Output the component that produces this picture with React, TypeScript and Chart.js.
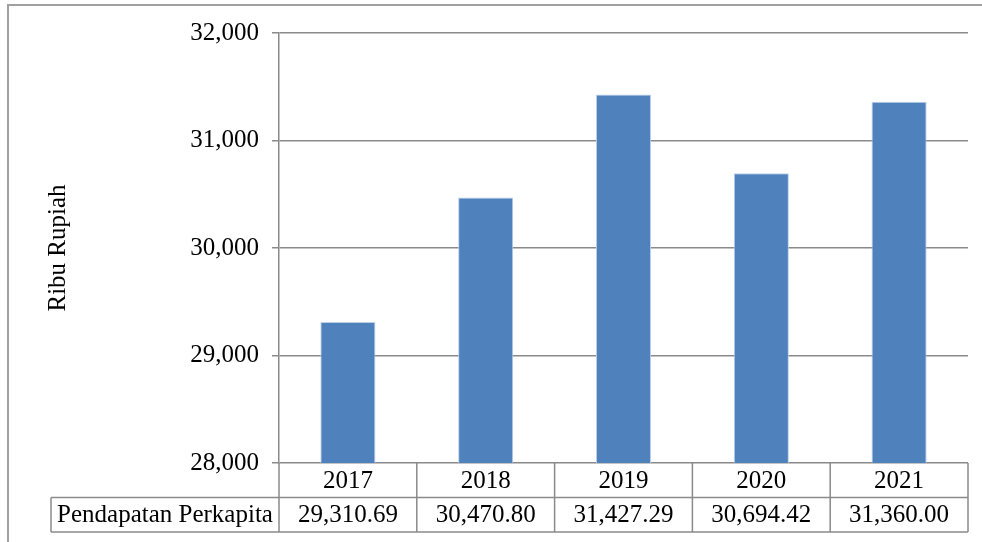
import React, { useEffect, useRef } from "react";
import { Chart, registerables } from "chart.js";

Chart.register(...registerables);

const years = ["2017", "2018", "2019", "2020", "2021"];
const pendapatan = [29310.69, 30470.8, 31427.29, 30694.42, 31360.0];
const tableLabels = ["29,310.69", "30,470.80", "31,427.29", "30,694.42", "31,360.00"];
const seriesName = "Pendapatan Perkapita";
const yTitle = "Ribu Rupiah";
const yMin = 28000;
const yMax = 32000;
const yStep = 1000;

const FONT = "'Liberation Serif', 'Times New Roman', serif";
const GRID = "#8a8a8a";

const tablePlugin = {
  id: "dataTable",
  afterDraw(chart: any) {
    const ctx = chart.ctx;
    const xs = chart.scales.x;
    const area = chart.chartArea;
    const n = years.length;
    const colW = (area.right - area.left) / n;
    const top = area.bottom;
    const mid = top + 34.5;
    const bot = top + 69;
    const labelLeft = 51;
    ctx.save();
    ctx.strokeStyle = GRID;
    ctx.lineWidth = 1.5;
    ctx.beginPath();
    // vertical column lines
    for (let i = 0; i <= n; i++) {
      const x = area.left + i * colW;
      ctx.moveTo(x, top);
      ctx.lineTo(x, bot);
    }
    // label cell left
    ctx.moveTo(labelLeft, mid);
    ctx.lineTo(labelLeft, bot);
    // horizontal lines
    ctx.moveTo(labelLeft, mid);
    ctx.lineTo(area.right, mid);
    ctx.moveTo(labelLeft, bot);
    ctx.lineTo(area.right, bot);
    ctx.stroke();

    ctx.fillStyle = "#000";
    ctx.font = `25px ${FONT}`;
    ctx.textAlign = "center";
    ctx.textBaseline = "middle";
    for (let i = 0; i < n; i++) {
      const cx = xs.getPixelForValue(i);
      ctx.fillText(years[i], cx, (top + mid) / 2 + 1);
      ctx.fillText(tableLabels[i], cx, (mid + bot) / 2 + 1);
    }
    ctx.fillText(seriesName, (labelLeft + area.left) / 2, (mid + bot) / 2 + 1);

    // outer chart border
    ctx.strokeStyle = "#a0a0a0";
    ctx.lineWidth = 2;
    ctx.strokeRect(8, 5, 1000, 600);
    ctx.restore();
  },
};

export default function App() {
  const ref = useRef<HTMLCanvasElement>(null);
  useEffect(() => {
    if (!ref.current) return;
    const chart = new Chart(ref.current, {
      type: "bar",
      data: {
        labels: years,
        datasets: [
          {
            label: seriesName,
            data: pendapatan,
            backgroundColor: "#4f81bd",
            borderColor: "#bcd0ea",
            borderWidth: { top: 1, left: 1, right: 1, bottom: 0 },
            barPercentage: 0.4,
            categoryPercentage: 1,
          },
        ],
      },
      options: {
        animation: false,
        responsive: false,
        layout: { padding: { left: 0, top: 33, right: 14, bottom: 79 } },
        plugins: { legend: { display: false }, tooltip: { enabled: false } },
        scales: {
          x: { display: false },
          y: {
            min: yMin,
            max: yMax,
            afterFit: (s: any) => {
              s.width = 279;
            },
            ticks: {
              stepSize: yStep,
              color: "#000",
              padding: 13,
              font: { family: FONT, size: 25 },
              callback: (v: any) => Number(v).toLocaleString("en-US"),
            },
            grid: { color: GRID, lineWidth: 1.5, tickLength: 7 },
            border: { display: true, color: GRID, width: 1.5 },
            title: {
              display: true,
              text: yTitle,
              color: "#000",
              font: { family: FONT, size: 25 },
              padding: { top: 43, bottom: 0 },
            },
          },
        },
      },
      plugins: [tablePlugin],
    });
    return () => chart.destroy();
  }, []);
  return (
    <div style={{ position: "absolute", left: 0, top: 0, width: 982, height: 542, background: "#fff" }}>
      <canvas ref={ref} width={982} height={542} style={{ display: "block" }} />
    </div>
  );
}
